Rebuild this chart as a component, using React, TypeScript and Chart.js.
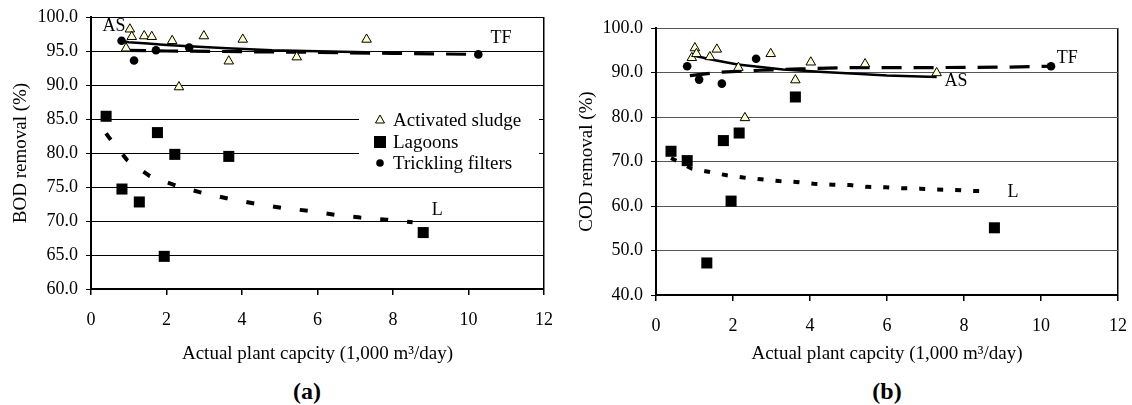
import React, { useEffect, useRef } from "react";
import { Chart, registerables } from "chart.js";

Chart.register(...registerables);

const FONT = '"Liberation Serif", "Times New Roman", serif';

// ---------- (a) BOD removal ----------
const bodAsX = [1.03, 1.08, 1.41, 1.61, 2.15, 2.99, 4.02, 0.93, 3.65, 2.33, 5.45, 7.3];
const bodAsY = [98.2, 97.1, 97.2, 97.1, 96.5, 97.2, 96.7, 95.4, 93.5, 89.7, 94.1, 96.7];
const bodLagX = [0.4, 1.76, 2.22, 3.65, 0.82, 1.28, 1.94, 8.8];
const bodLagY = [85.4, 83.0, 79.8, 79.5, 74.7, 72.8, 64.8, 68.3];
const bodTfX = [0.81, 1.14, 1.72, 2.6, 10.26];
const bodTfY = [96.5, 93.6, 95.1, 95.5, 94.5];

const bodAsFitX = [0.81, 1.0, 1.5, 2.0, 2.6, 3.6, 4.8, 6.0, 7.3];
const bodAsFitY = [96.5, 96.3, 96.1, 95.9, 95.7, 95.4, 95.1, 94.95, 94.8];
const bodTfFitX = [0.93, 2.0, 4.0, 6.0, 8.0, 10.26];
const bodTfFitY = [95.1, 95.0, 94.9, 94.8, 94.65, 94.5];
const bodLFitX = [0.4, 0.46, 0.95, 1.56, 2.31, 2.97, 3.71, 4.39, 5.09, 5.76, 6.46, 7.13, 7.83, 8.52];
const bodLFitY = [82.9, 82.4, 79.0, 76.6, 75.1, 74.1, 73.2, 72.5, 71.9, 71.5, 70.9, 70.5, 70.2, 69.8];

// ---------- (b) COD removal ----------
const codAsX = [1.01, 0.93, 1.05, 1.58, 1.4, 2.14, 2.98, 4.02, 3.62, 5.43, 2.31, 7.29];
const codAsY = [95.5, 93.3, 94.2, 95.2, 93.5, 91.1, 94.2, 92.3, 88.3, 91.9, 79.8, 89.9];
const codLagX = [0.39, 0.81, 1.75, 2.16, 3.62, 1.95, 1.32, 8.79];
const codLagY = [72.3, 70.2, 74.7, 76.4, 84.5, 61.1, 47.2, 55.1];
const codTfX = [0.81, 1.12, 1.71, 2.6, 10.26];
const codTfY = [91.4, 88.4, 87.5, 93.1, 91.4];

const codAsFitX = [0.97, 1.5, 2.12, 3.3, 4.35, 5.2, 6.0, 7.29];
const codAsFitY = [93.8, 92.8, 91.8, 90.7, 90.1, 89.7, 89.3, 89.0];
const codTfFitX = [0.88, 1.71, 2.7, 3.74, 5.04, 7.0, 9.0, 10.26];
const codTfFitY = [89.3, 90.1, 90.5, 90.8, 91.1, 91.1, 91.2, 91.4];
const codLFitX = [0.39, 0.93, 1.36, 1.84, 2.27, 2.73, 3.2, 3.64, 4.09, 4.57, 5.04, 5.47, 5.95, 6.38, 6.86, 7.29, 7.72, 8.2, 8.62];
const codLFitY = [70.8, 68.4, 67.7, 66.9, 66.4, 66.0, 65.6, 65.4, 65.0, 64.8, 64.7, 64.3, 64.2, 64.0, 63.9, 63.7, 63.6, 63.4, 63.3];

// ---------- labels ----------
const legendLabels = ["Activated sludge", "Lagoons", "Trickling filters"];
const xTitle = "Actual plant capcity (1,000 m³/day)";
const bodYTitle = "BOD removal (%)";
const codYTitle = "COD removal (%)";
const bodAnnText = ["AS", "TF", "L"];
const bodAnnX = [0.61, 10.86, 9.17];
const bodAnnY = [98.7, 96.8, 71.6];
const codAnnText = ["TF", "AS", "L"];
const codAnnX = [10.68, 7.79, 9.27];
const codAnnY = [93.1, 88.0, 63.0];

const TRI_FILL = "#FFFFC8";
const CW = 566;
const CH = 375;

const zip = (xs: number[], ys: number[]) => xs.map((x, i) => ({ x, y: ys[i] }));

function makePlugin(annText: string[], annX: number[], annY: number[], withLegend: boolean) {
  return {
    id: "extras",
    beforeDatasetsDraw(chart: any) {
      if (!withLegend) return;
      const ctx = chart.ctx;
      const a = chart.chartArea;
      const bx = a.left + 268;
      const by = a.top + 78;
      ctx.save();
      ctx.fillStyle = "#ffffff";
      ctx.fillRect(bx, by, 180, 86);
      const rows = [by + 25, by + 47, by + 68];
      const sx = bx + 21;
      ctx.strokeStyle = "#000";
      ctx.lineWidth = 1;
      // triangle
      ctx.beginPath();
      ctx.moveTo(sx, rows[0] - 5);
      ctx.lineTo(sx + 4.5, rows[0] + 3);
      ctx.lineTo(sx - 4.5, rows[0] + 3);
      ctx.closePath();
      ctx.fillStyle = TRI_FILL;
      ctx.fill();
      ctx.stroke();
      // square
      ctx.fillStyle = "#000";
      ctx.fillRect(sx - 6, rows[1] - 6, 12, 12);
      // circle
      ctx.beginPath();
      ctx.arc(sx, rows[2], 3.8, 0, Math.PI * 2);
      ctx.fill();
      ctx.font = `19px ${FONT}`;
      ctx.textAlign = "left";
      ctx.textBaseline = "middle";
      legendLabels.forEach((t, i) => ctx.fillText(t, sx + 13, rows[i] + 1));
      ctx.restore();
    },
    afterDatasetsDraw(chart: any) {
      const ctx = chart.ctx;
      const xs = chart.scales.x;
      const ys = chart.scales.y;
      ctx.save();
      ctx.fillStyle = "#000";
      ctx.font = `18px ${FONT}`;
      ctx.textAlign = "center";
      ctx.textBaseline = "middle";
      annText.forEach((t, i) => ctx.fillText(t, xs.getPixelForValue(annX[i]), ys.getPixelForValue(annY[i])));
      ctx.restore();
    },
  };
}

function buildConfig(p: {
  asX: number[]; asY: number[]; lagX: number[]; lagY: number[]; tfX: number[]; tfY: number[];
  asFitX: number[]; asFitY: number[]; tfFitX: number[]; tfFitY: number[]; lFitX: number[]; lFitY: number[];
  yMin: number; yMax: number; yStep: number; yTitle: string;
  padTop: number; padRight: number; yWidth: number; xHeight: number; gridColor: string;
  lDash: number[]; annText: string[]; annX: number[]; annY: number[]; legend: boolean;
}): any {
  return {
    type: "scatter",
    data: {
      datasets: [
        {
          label: legendLabels[0], data: zip(p.asX, p.asY), pointStyle: "triangle", pointRadius: 5.5,
          backgroundColor: TRI_FILL, borderColor: "#000", borderWidth: 1, order: 0,
        },
        {
          label: legendLabels[1], data: zip(p.lagX, p.lagY), pointStyle: "rect", pointRadius: 7.8,
          backgroundColor: "#000", borderColor: "#000", borderWidth: 0, order: 0,
        },
        {
          label: legendLabels[2], data: zip(p.tfX, p.tfY), pointStyle: "circle", pointRadius: 4.3,
          backgroundColor: "#000", borderColor: "#000", borderWidth: 0, order: 0,
        },
        {
          label: "AS fit", data: zip(p.asFitX, p.asFitY), showLine: true, pointRadius: 0,
          borderColor: "#000", borderWidth: 2.5, fill: false, order: 1,
        },
        {
          label: "TF fit", data: zip(p.tfFitX, p.tfFitY), showLine: true, pointRadius: 0,
          borderColor: "#000", borderWidth: 3.2, borderDash: [20, 12], fill: false, order: 1,
        },
        {
          label: "L fit", data: zip(p.lFitX, p.lFitY), showLine: true, pointRadius: 0,
          borderColor: "#000", borderWidth: 4, borderDash: p.lDash, fill: false, order: 1,
        },
      ],
    },
    options: {
      animation: false,
      responsive: false,
      events: [],
      layout: { padding: { left: 0, right: p.padRight, top: p.padTop, bottom: 0 } },
      plugins: { legend: { display: false }, tooltip: { enabled: false } },
      scales: {
        x: {
          type: "linear", min: 0, max: 12,
          ticks: { stepSize: 2, color: "#000", font: { family: FONT, size: 18 }, padding: 14, maxRotation: 0 },
          grid: {
            drawOnChartArea: true,
            color: (c: any) => (c.tick && c.tick.value === 12 ? "#000" : "rgba(0,0,0,0)"),
            tickColor: "#000", tickLength: 6, lineWidth: 1.5,
          },
          border: { display: true, color: "#000", width: 2 },
          title: {
            display: true, text: xTitle, color: "#000",
            font: { family: FONT, size: 19 }, padding: { top: 0, bottom: 10 },
          },
          afterFit: (s: any) => {
            s.height = p.xHeight;
            s.paddingLeft = 0;
            s.paddingRight = 0;
          },
        },
        y: {
          type: "linear", min: p.yMin, max: p.yMax,
          ticks: {
            stepSize: p.yStep, color: "#000", font: { family: FONT, size: 18 }, padding: 8,
            callback: (v: any) => Number(v).toFixed(1),
          },
          grid: { color: p.gridColor, tickColor: "#000", tickLength: 5, lineWidth: 1 },
          border: { display: true, color: "#000", width: 2 },
          title: {
            display: true, text: p.yTitle, color: "#000",
            font: { family: FONT, size: 19 }, padding: { top: 10, bottom: 0 },
          },
          afterFit: (s: any) => {
            s.width = p.yWidth;
            s.paddingTop = 0;
            s.paddingBottom = 0;
          },
        },
      },
    },
    plugins: [makePlugin(p.annText, p.annX, p.annY, p.legend)],
  };
}

function ChartCanvas({ config, left }: { config: any; left: number }) {
  const ref = useRef<HTMLCanvasElement>(null);
  useEffect(() => {
    const chart = new Chart(ref.current as HTMLCanvasElement, config);
    return () => chart.destroy();
  }, []);
  return (
    <canvas
      ref={ref}
      width={CW}
      height={CH}
      style={{ position: "absolute", left, top: 0, width: CW, height: CH }}
    />
  );
}

export default function App() {
  const cfgA = buildConfig({
    asX: bodAsX, asY: bodAsY, lagX: bodLagX, lagY: bodLagY, tfX: bodTfX, tfY: bodTfY,
    asFitX: bodAsFitX, asFitY: bodAsFitY, tfFitX: bodTfFitX, tfFitY: bodTfFitY, lFitX: bodLFitX, lFitY: bodLFitY,
    yMin: 60, yMax: 100, yStep: 5, yTitle: bodYTitle,
    padTop: 17, padRight: CW - 544, yWidth: 91, xHeight: CH - 289, gridColor: "#000",
    lDash: [8, 19], annText: bodAnnText, annX: bodAnnX, annY: bodAnnY, legend: true,
  });
  const cfgB = buildConfig({
    asX: codAsX, asY: codAsY, lagX: codLagX, lagY: codLagY, tfX: codTfX, tfY: codTfY,
    asFitX: codAsFitX, asFitY: codAsFitY, tfFitX: codTfFitX, tfFitY: codTfFitY, lFitX: codLFitX, lFitY: codLFitY,
    yMin: 40, yMax: 100, yStep: 10, yTitle: codYTitle,
    padTop: 28, padRight: CW - (1118 - 566), yWidth: 656 - 566, xHeight: CH - 295, gridColor: "#555",
    lDash: [6, 12], annText: codAnnText, annX: codAnnX, annY: codAnnY, legend: false,
  });
  const capStyle: React.CSSProperties = {
    position: "absolute", top: 378, width: 80, textAlign: "center",
    font: `bold 24px ${FONT}`, lineHeight: "26px", color: "#000",
  };
  return (
    <div style={{ position: "absolute", left: 0, top: 0, width: 1132, height: 405, background: "#fff" }}>
      <ChartCanvas config={cfgA} left={0} />
      <ChartCanvas config={cfgB} left={566} />
      <div style={{ ...capStyle, left: 307 - 40 }}>(a)</div>
      <div style={{ ...capStyle, left: 887 - 40 }}>(b)</div>
    </div>
  );
}
